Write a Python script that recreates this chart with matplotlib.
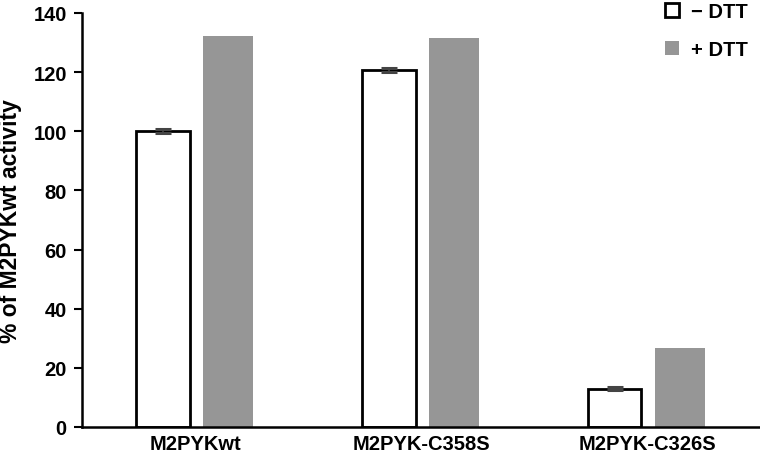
import matplotlib
matplotlib.use("Agg")
import matplotlib.pyplot as plt
import numpy as np
from matplotlib.patches import Patch

categories = ["M2PYKwt", "M2PYK-C358S", "M2PYK-C326S"]
minus_dtt = [100.0, 120.7, 13.0]
minus_err = [0.7, 0.8, 0.6]
plus_dtt = [132.2, 131.5, 26.7]
series_labels = ["\u2212 DTT", "+ DTT"]
yticks = [0, 20, 40, 60, 80, 100, 120, 140]

plt.rcParams['font.family'] = ['Liberation Sans', 'DejaVu Sans']
plt.rcParams['font.weight'] = 'bold'

fig = plt.figure(figsize=(7.6, 4.6), dpi=100)
ax = fig.add_axes([0.108, 0.0696, 0.892, 0.900])

x = np.arange(len(categories))
ax.bar(x - 0.142, minus_dtt, 0.235, facecolor='white', edgecolor='black', linewidth=2.0,
       yerr=minus_err, error_kw=dict(ecolor='#444444', capsize=6, elinewidth=1.2, capthick=2.2), zorder=3)
ax.bar(x + 0.146, plus_dtt, 0.222, facecolor='#969696', edgecolor='none', zorder=3)

ax.set_xlim(-0.5, 2.5)
ax.set_ylim(0, 140)
ax.set_yticks(yticks)
ax.set_yticklabels([str(t) for t in yticks], fontsize=14.5, fontweight='bold')
ax.set_xticks(x)
ax.set_xticklabels(categories, fontsize=14.5, fontweight='bold')
ax.tick_params(axis='x', length=0, pad=5)
ax.tick_params(axis='y', direction='out', length=6, width=1.5, pad=5)
ax.set_ylabel("% of M2PYKwt activity", fontsize=16.5, fontweight='bold', labelpad=8)
for s in ['top', 'right']:
    ax.spines[s].set_visible(False)
for s in ['left', 'bottom']:
    ax.spines[s].set_linewidth(1.8)
ax.spines['bottom'].set_zorder(4)

handles = [Patch(facecolor='white', edgecolor='black', linewidth=2.0),
           Patch(facecolor='#969696', edgecolor='none')]
leg = ax.legend(handles, series_labels, loc='upper right', bbox_to_anchor=(1.0, 1.055),
                frameon=False, fontsize=14.5, handlelength=0.7, handleheight=0.7,
                labelspacing=0.95, handletextpad=0.6, borderaxespad=0.2)
for t in leg.get_texts():
    t.set_fontweight('bold')

fig.savefig("out.png", dpi=100)
